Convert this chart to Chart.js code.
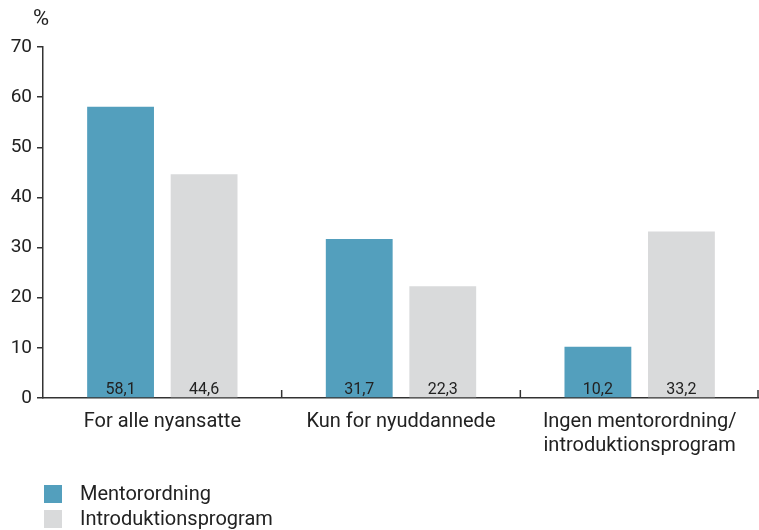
<!DOCTYPE html>
<html>
<head>
<meta charset="utf-8">
<script src="https://cdn.jsdelivr.net/npm/chart.js@4"></script>
<style>
  html, body { margin: 0; padding: 0; background: #fff; }
  #wrap { width: 759px; height: 530px; }
</style>
</head>
<body>
<div id="wrap"><canvas id="chart"></canvas></div>
<script>
const categories = [
    'For alle nyansatte',
    'Kun for nyuddannede',
    ['Ingen mentorordning/', 'introduktionsprogram']
];
const seriesNames = ['Mentorordning', 'Introduktionsprogram'];
const mentorValues = [58.1, 31.7, 10.2];
const introValues = [44.6, 22.3, 33.2];
const yTicks = [0, 10, 20, 30, 40, 50, 60, 70];

const colors = ['#539fbd', '#d9dadb'];
const textColor = '#222222';
const fontFamily = 'Roboto, "DejaVu Sans", sans-serif';

// values written at the bottom of each bar, comma as decimal separator
const barLabels = {
    id: 'barLabels',
    afterDatasetsDraw(chart) {
        const ctx = chart.ctx;
        ctx.save();
        ctx.font = '16px ' + fontFamily;
        ctx.fillStyle = textColor;
        ctx.textAlign = 'center';
        ctx.textBaseline = 'alphabetic';
        chart.data.datasets.forEach((ds, di) => {
            chart.getDatasetMeta(di).data.forEach((bar, i) => {
                const txt = ds.data[i].toFixed(1).replace('.', ',');
                ctx.fillText(txt, bar.x, chart.chartArea.bottom - 4);
            });
        });
        ctx.restore();
    }
};

// small upward ticks between categories, "%" unit, and the stacked legend
const extras = {
    id: 'extras',
    afterDraw(chart) {
        const ctx = chart.ctx;
        const x = chart.scales.x;
        const y = chart.scales.y;
        const area = chart.chartArea;
        ctx.save();

        ctx.strokeStyle = '#333';
        ctx.lineWidth = 1.5;
        const n = categories.length;
        const step = x.getPixelForValue(1) - x.getPixelForValue(0);
        for (let i = 1; i <= n; i++) {
            const bx = Math.min(x.getPixelForValue(i - 1) + step / 2, chart.width - 1);
            ctx.beginPath();
            ctx.moveTo(bx, y.getPixelForValue(0));
            ctx.lineTo(bx, y.getPixelForValue(0) - 8);
            ctx.stroke();
        }

        ctx.fillStyle = textColor;
        ctx.font = '22px ' + fontFamily;
        ctx.textAlign = 'center';
        ctx.textBaseline = 'alphabetic';
        ctx.fillText('%', area.left - 2, 25);

        ctx.font = '20px ' + fontFamily;
        ctx.textAlign = 'left';
        ctx.textBaseline = 'middle';
        chart.data.datasets.forEach((ds, i) => {
            const ly = 485 + i * 25;
            ctx.fillStyle = ds.backgroundColor;
            ctx.fillRect(44, ly, 18, 18);
            ctx.fillStyle = textColor;
            ctx.fillText(ds.label, 80, ly + 10);
        });
        ctx.restore();
    }
};

new Chart(document.getElementById('chart'), {
    type: 'bar',
    data: {
        labels: categories,
        datasets: [
            { label: seriesNames[0], data: mentorValues, backgroundColor: colors[0] },
            { label: seriesNames[1], data: introValues, backgroundColor: colors[1] }
        ]
    },
    options: {
        responsive: true,
        maintainAspectRatio: false,
        animation: false,
        datasets: {
            bar: { barPercentage: 0.8, categoryPercentage: 0.7 }
        },
        layout: { padding: { top: 47, right: 0, bottom: 68, left: 0 } },
        plugins: {
            legend: { display: false },
            tooltip: { enabled: false }
        },
        scales: {
            x: {
                grid: { display: false },
                border: { display: true, color: '#333', width: 1.5 },
                ticks: {
                    color: textColor,
                    font: { family: fontFamily, size: 20 },
                    padding: 4,
                    maxRotation: 0
                }
            },
            y: {
                min: 0,
                max: 70,
                afterBuildTicks(scale) {
                    scale.ticks = yTicks.map(v => ({ value: v }));
                },
                afterFit(scale) { scale.width = 43; },
                grid: {
                    drawOnChartArea: false,
                    drawTicks: true,
                    tickLength: 6,
                    color: '#333',
                    lineWidth: 1.5
                },
                border: { display: true, color: '#333', width: 1.5 },
                ticks: {
                    color: textColor,
                    font: { family: fontFamily, size: 19 },
                    padding: 5
                }
            }
        }
    },
    plugins: [barLabels, extras]
});
</script>
</body>
</html>
